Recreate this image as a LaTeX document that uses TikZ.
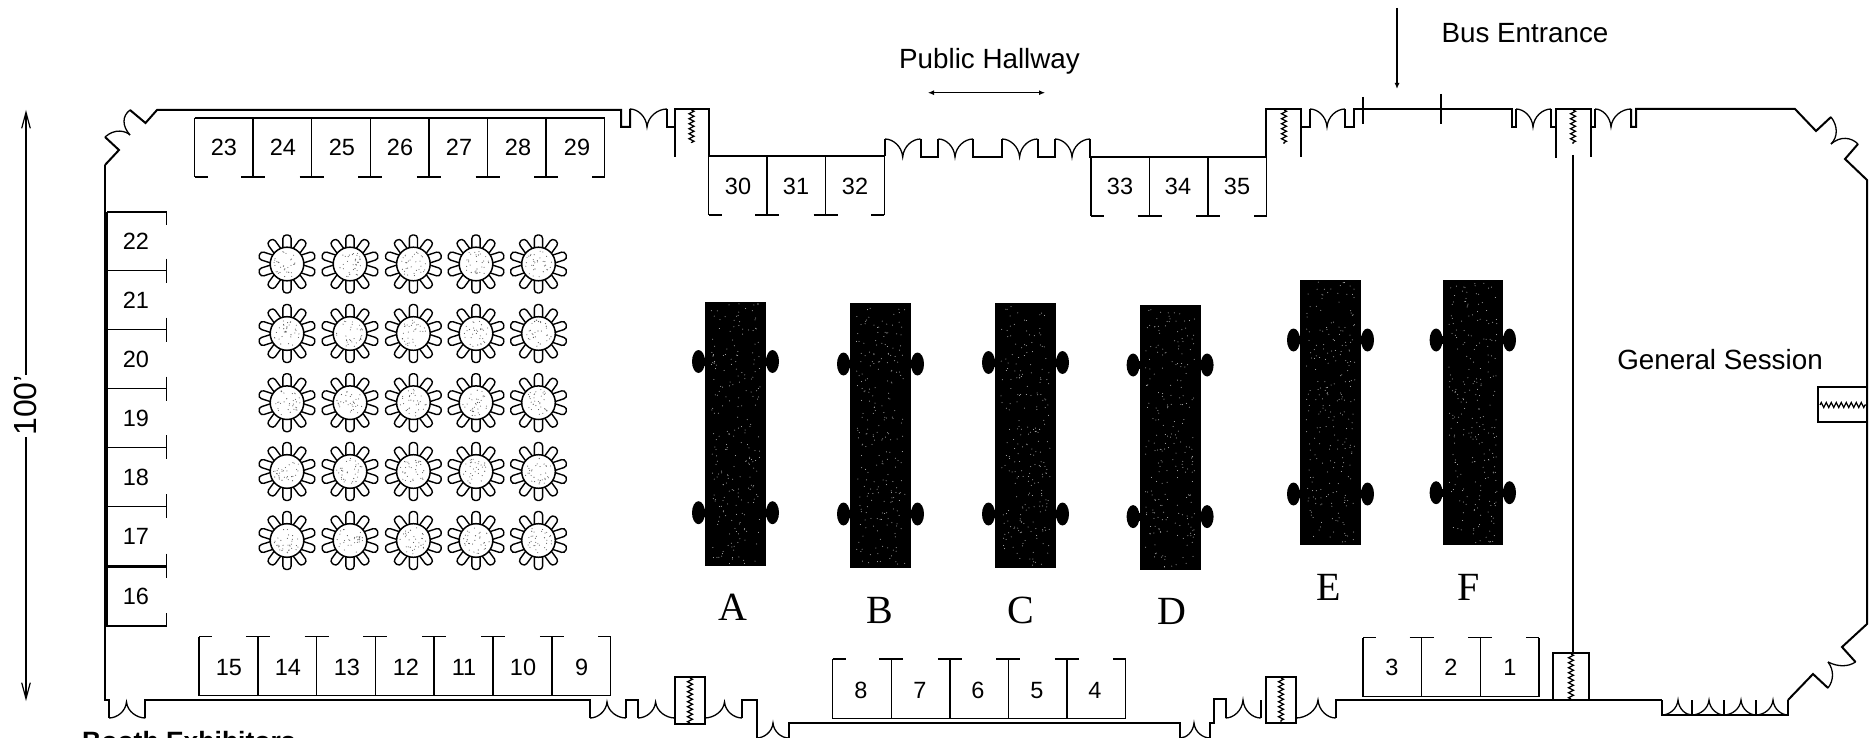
\documentclass[tikz,border=0pt]{standalone}
\usepackage{fontspec}
\setmainfont{Liberation Sans}
\newfontfamily\serifletter{Liberation Serif}
\usetikzlibrary{arrows.meta,decorations.pathmorphing}
\tikzset{
  x=1pt,y=-1pt,
  wall/.style={draw=black,line width=2pt,line join=miter},
  thin wall/.style={draw=black,line width=1.4pt},
  booth/.style={draw=black,line width=1.5pt},
  door/.style={draw=black,line width=1.3pt},
  zig/.style={draw=black,line width=1.2pt,decorate,decoration={zigzag,segment length=5pt,amplitude=2.6pt}},
  num/.style={inner sep=0pt,text height=16.5pt,text depth=0pt,font=\fontsize{23.5}{23.5}\selectfont},
  letter/.style={inner sep=0pt,font=\serifletter\fontsize{40}{40}\selectfont},
  captext/.style={inner sep=0pt,font=\fontsize{27.8}{28}\selectfont},
  roundtable/.style={draw=black,line width=1.5pt,fill=white},
  chair/.style={draw=black,line width=1.4pt,fill=white,rounded corners=3.4pt},
  blacktable/.style={fill=black,draw=none},
}
\newcommand{\arcsdown}[4]{%
  \foreach \yt/\yb in {#4}{
   \draw[door] (#1,\yt) .. controls ({#1+0.45*(#2-#1)},\yt) and ({#2-0.05*(#2-#1)},{\yt+0.4*(\yb-\yt)}) .. (#2,\yb)
       .. controls ({#2+0.05*(#3-#2)},{\yt+0.4*(\yb-\yt)}) and ({#3-0.45*(#3-#2)},\yt) .. (#3,\yt);}}
\newcommand{\arcsup}[4]{%
  \foreach \yb/\yt in {#4}{
   \draw[door] (#1,\yb) .. controls ({#1+0.45*(#2-#1)},\yb) and ({#2-0.05*(#2-#1)},{\yb-0.4*(\yb-\yt)}) .. (#2,\yt)
       .. controls ({#2+0.05*(#3-#2)},{\yb-0.4*(\yb-\yt)}) and ({#3-0.45*(#3-#2)},\yb) .. (#3,\yb);}}
\newcommand{\boothrow}[5]{%
  \foreach \i in {0,...,#3}{
    \pgfmathsetmacro{\xx}{#1+\i*#2}
    \draw[booth] (\xx,#4) -- (\xx,#5);
    \ifnum\i=0
      \draw[booth] (\xx,#5) -- ++(13,0);
    \else\ifnum\i=#3
      \draw[booth] (\xx,#5) -- ++(-13,0);
    \else
      \draw[booth] ({\xx-12},#5) -- ({\xx+12},#5);
    \fi\fi
  }
  \draw[booth] (#1,#4) -- ({#1+#3*#2},#4);
}
\begin{document}
\begin{tikzpicture}
\useasboundingbox (0,0) rectangle (1875,738);
\clip (0,0) rectangle (1875,738);
\fill[white] (0,0) rectangle (1875,738);

% ---- outer wall, top side
\draw[wall] (105,165) -- (119,150) -- (105,137);
\draw[door] (105,137) .. controls (115,128) and (126,131) .. (130,135);
\draw[door] (130,135) .. controls (122,126) and (122,116) .. (130,110);
\draw[wall] (130,110) -- (145.5,123) -- (157,110) -- (621,110) -- (621,127) -- (630,127) -- (630,109);
\arcsdown{630}{647}{667}{109/127}
\draw[wall] (667,109) -- (667,127) -- (675,127);
\draw[wall] (675,157) -- (675,109) -- (709,109) -- (709,156) -- (885,156);
\draw[zig] (691.5,110) -- (691.5,143);
\draw[wall] (885,156) -- (885,139);
\arcsdown{885}{902.7}{920.5}{139/157}
\draw[wall] (920.5,139) -- (920.5,157) -- (938.4,157) -- (938.4,139);
\arcsdown{938.4}{955}{973}{139/157}
\draw[wall] (973,139) -- (973,157) -- (1002,157) -- (1002,139);
\arcsdown{1002}{1019.6}{1037.5}{139/157}
\draw[wall] (1037.5,139) -- (1037.5,157) -- (1055,157) -- (1055,139);
\arcsdown{1055}{1072}{1090}{139/157}
\draw[wall] (1090,139) -- (1090,157) -- (1266,157) -- (1266,109) -- (1300.6,109) -- (1300.6,157);
\draw[zig] (1284,110) -- (1284,144);
\draw[wall] (1300.6,127) -- (1310,127) -- (1310,109);
\arcsdown{1310}{1327}{1345}{109/127}
\draw[wall] (1345,109) -- (1345,127) -- (1354,127) -- (1354,109) -- (1512,109) -- (1512,127) -- (1516,127) -- (1516,109);
\draw[booth] (1363,97) -- (1363,124);
\draw[booth] (1441,94) -- (1441,124);
\arcsdown{1516}{1533}{1551}{109/127}
\draw[wall] (1551,109) -- (1551,127) -- (1556,127);
\draw[wall] (1556,158) -- (1556,109) -- (1591,109) -- (1591,157);
\draw[zig] (1573,110) -- (1573,144);
\draw[wall] (1591,127) -- (1595,127) -- (1595,109);
\arcsdown{1595}{1611}{1631}{109/127}
\draw[wall] (1631,109) -- (1631,127) -- (1636,127) -- (1636,109) -- (1795,109) -- (1816,131) -- (1831,117);
\draw[door] (1831,117) .. controls (1838,126) and (1838,137) .. (1831,144);
\draw[door] (1831,144) .. controls (1840,136) and (1851,137) .. (1858,144);
\draw[wall] (1858,144) -- (1845,159) -- (1867,180) -- (1867,624) -- (1842,647) -- (1855.5,662);
\draw[door] (1855.5,662) .. controls (1848,667) and (1838,667) .. (1828,662);
\draw[door] (1828,662) .. controls (1834,670) and (1834,680) .. (1828,688);
\draw[wall] (1828,688) -- (1813,674) -- (1788,700);

% ---- outer wall, bottom right to bottom left
\draw[wall] (1788,700) -- (1788,715) -- (1662,715) -- (1662,700);
\arcsup{1662}{1678}{1692}{715/700}
\arcsup{1692}{1709}{1724}{715/700}
\arcsup{1724}{1741}{1756}{715/700}
\arcsup{1756}{1773}{1788}{715/700}
\draw[wall] (1692,700) -- (1692,715) (1724,700) -- (1724,715) (1756,700) -- (1756,715);
\draw[wall] (1662,700) -- (1335.6,700) -- (1335.6,718);
\arcsup{1296}{1318}{1335.6}{718/700}
\arcsup{1225.7}{1243}{1260.6}{718/700}
\draw[wall] (1260.6,700) -- (1260.6,718);
\draw[wall] (1225.7,718) -- (1225.7,699) -- (1213.5,699) -- (1213.5,723) -- (1210,723) -- (1210,738);
\draw[wall] (1180,738) -- (1180,723) -- (788.7,723) -- (788.7,738);
\arcsup{1180}{1194}{1210}{738/723}
\arcsup{756.6}{773}{788.7}{738/723}
\draw[wall] (756.6,738) -- (756.6,700) -- (742,700) -- (742,718);
\arcsup{704.6}{724.5}{742}{718/702}
\arcsup{638}{655.6}{675}{718/702}
\draw[wall] (638,718) -- (638,700) -- (626,700) -- (626,718);
\arcsup{590}{607}{626}{718/702}
\draw[wall] (590,718) -- (590,700) -- (145.4,700) -- (145.4,718);
\arcsup{109}{126.5}{145.4}{718/702}
\draw[wall] (109,718) -- (109,700) -- (105,700) -- (105,165);
\draw[draw=black,line width=3pt] (106,212) -- (106,627);

% ---- booths 23-29
\boothrow{194.5}{58.6}{7}{118}{177}
\node[num] (b23) at (224,147) {23};
\node[num] (b24) at (283,147) {24};
\node[num] (b25) at (342,147) {25};
\node[num] (b26) at (400,147) {26};
\node[num] (b27) at (459,147) {27};
\node[num] (b28) at (518,147) {28};
\node[num] (b29) at (577,147) {29};
% booths 30-32, 33-35
\boothrow{708.5}{58.6}{3}{156}{215}
\node[num] (b30) at (738,186) {30};
\node[num] (b31) at (796,186) {31};
\node[num] (b32) at (855,186) {32};
\boothrow{1091}{58.5}{3}{157}{216}
\node[num] (b33) at (1120,186) {33};
\node[num] (b34) at (1178,186) {34};
\node[num] (b35) at (1237,186) {35};
% booths 9-15
\boothrow{199}{58.8}{7}{695.7}{636.7}
\node[num] (b15) at (229,667) {15};
\node[num] (b14) at (288,667) {14};
\node[num] (b13) at (347,667) {13};
\node[num] (b12) at (406,667) {12};
\node[num] (b11) at (464,667) {11};
\node[num] (b10) at (523,667) {10};
\node[num] (b9) at (581.6,667) {9};
% booths 4-8
\boothrow{832.7}{58.56}{5}{718.7}{659}
\node[num] (b8) at (861,690) {8};
\node[num] (b7) at (920,690) {7};
\node[num] (b6) at (978,690) {6};
\node[num] (b5) at (1037,690) {5};
\node[num] (b4) at (1095,690) {4};
% booths 1-3
\boothrow{1363}{58.7}{3}{696.7}{637.7}
\node[num] (b3) at (1392,667) {3};
\node[num] (b2) at (1451,667) {2};
\node[num] (b1) at (1510,667) {1};
% booths 16-22
\foreach \yy in {270.7,329.6,388.5,447.4,506.3,565.5}{
  \draw[booth] (107,\yy) -- (166.5,\yy);
  \draw[booth] (166.5,{\yy-12}) -- (166.5,{\yy+12});
}
\draw[booth] (166.5,225) -- (166.5,212) -- (107,212);
\draw[booth] (166.5,613) -- (166.5,626) -- (107,626);
\draw[booth] (107,566.8) -- (166.5,566.8);
\node[num] (b22) at (136,241.5) {22};
\node[num] (b21) at (136,300) {21};
\node[num] (b20) at (136,359) {20};
\node[num] (b19) at (136,418) {19};
\node[num] (b18) at (136,477) {18};
\node[num] (b17) at (136,536) {17};
\node[num] (b16) at (136,596) {16};

% ---- partition and service boxes
\draw[thin wall] (1573,155) -- (1573,652.7);
\draw[wall] (1553,700) -- (1553,652.7) -- (1588.6,652.7) -- (1588.6,700);
\draw[zig] (1571,654) -- (1571,699);
\draw[wall] (675,676.7) rectangle (704.6,724);
\draw[zig] (690,678) -- (690,723);
\draw[wall] (1266,676.7) rectangle (1296,723);
\draw[zig] (1281,678) -- (1281,722);
\draw[wall] (1866,387) -- (1818,387) -- (1818,422) -- (1866,422);
\draw[zig] (1820,405) -- (1866,405);

% ---- round tables
\pgfmathsetseed{4711}
\foreach \cx in {287,350,413.4,476,538.5}{
  \foreach \cy in {264,333.5,402.7,471.5,540.5}{
    \begin{scope}[shift={(\cx,\cy)}]
      \foreach \a in {18,54,90,126,162,198,234,270,306,342}{
        \draw[chair,rotate=\a] (13,-4.1) -- (29,-4.1) -- (29,4.1) -- (13,4.1);
      }
      \draw[roundtable] (0,0) circle (16.8);
      \foreach \n in {1,...,32}{
        \pgfmathsetmacro{\ra}{rand*180}
        \pgfmathsetmacro{\rr}{13.5*sqrt(abs(rnd))}
        \fill[black!65] (\ra:\rr) circle (0.55);
      }
    \end{scope}
  }
}

% ---- black tables with stipple
\foreach \xa/\xb/\yt/\yb/\ya/\yc in {
  705/766/301.7/565.6/361.5/512.7,
  850/911/303/568/364/514,
  995/1056/302.5/568/362.5/514,
  1139.6/1200.6/305/570/365/516.6,
  1300/1361/280/545/340/494,
  1442.6/1503/280/545/340/492.7}{
  \fill[blacktable] (\xa,\yt) rectangle (\xb,\yb);
  \foreach \yy in {\ya,\yc}{
    \fill[blacktable] ({\xa-5},{\yy-4}) rectangle ({\xb+5},{\yy+4});
    \fill[blacktable] ({\xa-6.5},\yy) ellipse (6.5 and 11.5);
    \fill[blacktable] ({\xb+6.5},\yy) ellipse (6.5 and 11.5);
  }
  \foreach \n in {1,...,230}{
    \pgfmathsetmacro{\px}{\xa+6+(\xb-\xa-12)*rnd}
    \pgfmathsetmacro{\py}{\yt+2+(\yb-\yt-4)*rnd}
    \fill[white!75!black] (\px,\py) circle (0.5);
  }
}
\node[letter] (la) at (733,607) {A};
\node[letter] (lb) at (880,610) {B};
\node[letter] (lc) at (1021,610) {C};
\node[letter] (ld) at (1172,611) {D};
\node[letter] (le) at (1328.6,587) {E};
\node[letter] (lf) at (1468.7,587) {F};

% ---- captions
\node[captext] (hall) at (989.5,61.5) {Public Hallway};
\coordinate (hl) at (928,92.7);
\coordinate (hr) at (1045,92.7);
\draw[line width=1pt,{Latex[length=6pt,width=5pt]}-{Latex[length=6pt,width=5pt]}] (hl) -- (hr);
\node[captext] (bus) at (1525,33.5) {Bus Entrance};
\coordinate (bt) at (1397,8);
\coordinate (bb) at (1397,89);
\draw[line width=1.2pt,-{Latex[length=6pt,width=5pt]}] (bt) -- (bb);
\node[captext] (gs) at (1720,359.5) {General Session};
\node[anchor=base west,inner sep=0pt,font=\bfseries\fontsize{26.5}{27}\selectfont] (booth) at (82,750.5) {Booth Exhibitors};

% ---- dimension
\coordinate (dt) at (26,110);
\coordinate (db) at (26,701);
\node[inner sep=1pt,rotate=90,font=\fontsize{32}{32}\selectfont] (dim) at (25,405.5) {100'};
\draw[line width=1.2pt,-{Straight Barb[length=16pt,width=20pt,angle'=30]}] (26,375) -- (dt);
\draw[line width=1.2pt,-{Straight Barb[length=16pt,width=20pt,angle'=30]}] (26,437) -- (db);
\end{tikzpicture}
\end{document}
